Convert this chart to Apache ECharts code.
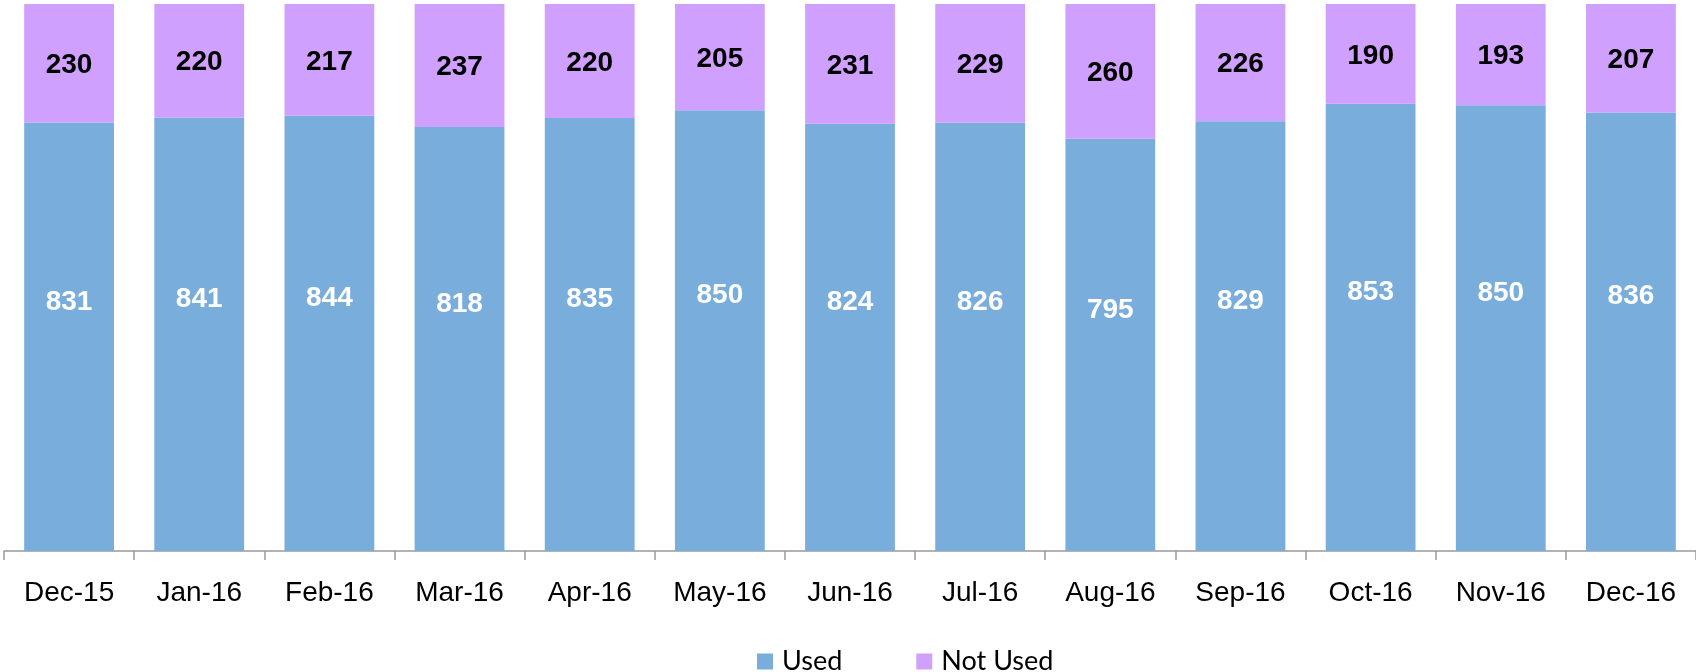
<!DOCTYPE html>
<html>
<head>
<meta charset="utf-8">
<title>Used vs Not Used</title>
<script src="https://cdn.jsdelivr.net/npm/echarts@6/dist/echarts.min.js"></script>
<style>
    html, body { margin: 0; padding: 0; background: #fff; }
    #chart { width: 1696px; height: 672px; }
</style>
</head>
<body>
<div id="chart"></div>
<script>
"use strict";
var months = ['Dec-15', 'Jan-16', 'Feb-16', 'Mar-16', 'Apr-16', 'May-16', 'Jun-16',
    'Jul-16', 'Aug-16', 'Sep-16', 'Oct-16', 'Nov-16', 'Dec-16'];
var used = [831, 841, 844, 818, 835, 850, 824, 826, 795, 829, 853, 850, 836];
var notUsed = [230, 220, 217, 237, 220, 205, 231, 229, 260, 226, 190, 193, 207];

/* 100% stacked: share of each month total, label shows the raw count */
function share(list, i) {
    return list[i] / (used[i] + notUsed[i]) * 100;
}
var usedData = used.map(function (v, i) { return { value: share(used, i), raw: v }; });
var notUsedData = notUsed.map(function (v, i) { return { value: share(notUsed, i), raw: v }; });

var chart = echarts.init(document.getElementById('chart'));
var option = {
    animation: false,
    legend: {
        data: ['Used', 'Not Used'],
        top: 643,
        left: 752,
        itemWidth: 16,
        itemHeight: 16,
        itemGap: 74,
        icon: 'rect',
        textStyle: {
            fontFamily: 'Lato',
            fontSize: 27,
            color: '#000',
            padding: [0, 0, 0, 4]
        }
    },
    grid: {
        left: 4,
        right: 0,
        top: 4,
        bottom: 121
    },
    xAxis: {
        type: 'category',
        data: months,
        axisLine: { lineStyle: { color: '#999', width: 1.5 } },
        axisTick: { show: true, interval: 0, length: 9, lineStyle: { color: '#999', width: 1.5 } },
        axisLabel: {
            color: '#000',
            fontFamily: 'Liberation Sans',
            fontSize: 28,
            margin: 28
        }
    },
    yAxis: {
        type: 'value',
        min: 0,
        max: 100,
        show: false
    },
    series: [
        {
            name: 'Used',
            type: 'bar',
            stack: 'total',
            barCategoryGap: '31%',
            data: usedData,
            itemStyle: { color: '#79addc' },
            label: {
                show: true,
                position: 'inside',
                offset: [0, -35],
                color: '#fff',
                fontFamily: 'Liberation Sans',
                fontWeight: 'bold',
                fontSize: 28,
                formatter: function (p) { return p.data.raw; }
            }
        },
        {
            name: 'Not Used',
            type: 'bar',
            stack: 'total',
            data: notUsedData,
            itemStyle: { color: '#d0a0fe' },
            label: {
                show: true,
                position: 'inside',
                offset: [0, 2],
                color: '#000',
                fontFamily: 'Liberation Sans',
                fontWeight: 'bold',
                fontSize: 28,
                formatter: function (p) { return p.data.raw; }
            }
        }
    ]
};
chart.setOption(option);
</script>
</body>
</html>
